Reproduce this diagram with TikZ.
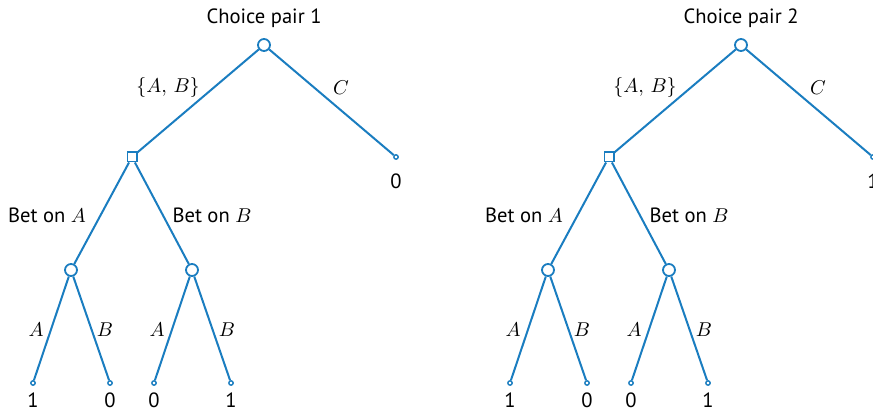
\documentclass[tikz,border=0pt]{standalone}
\usepackage{fontspec}
\setmainfont{PT Sans}
\usetikzlibrary{positioning}
\definecolor{treeblue}{HTML}{1A7DC0}

\begin{document}
\begin{tikzpicture}[x=0.5pt,y=-0.5pt,
    chance/.style={circle,draw=treeblue,fill=white,line width=0.9pt,inner sep=0pt,minimum size=6pt},
    choice/.style={rectangle,draw=treeblue,fill=white,line width=0.9pt,inner sep=0pt,minimum size=4.6pt},
    leaf/.style={circle,draw=treeblue,fill=white,line width=0.7pt,inner sep=0pt,minimum size=2.2pt},
    branch/.style={treeblue,line width=1pt},
    lbl/.style={font=\fontsize{10.3}{12}\selectfont,inner sep=0pt}]
  \useasboundingbox (0,0) rectangle (873,411);
  \clip (0,0) rectangle (873,411);
  \foreach \k/\dx/\cv in {1/0/0,2/477/1}{
    \begin{scope}[shift={(\dx,0)}]
      % decision nodes
      \node[chance] (root\k) at (264,45) {};
      \node[choice] (pick\k) at (132,157) {};
      \node[leaf] (outC\k) at (396,157) {};
      \node[chance] (betA\k) at (71,270) {};
      \node[chance] (betB\k) at (192,270) {};
      \node[leaf] (aa\k) at (33,383) {};
      \node[leaf] (ab\k) at (110,383) {};
      \node[leaf] (ba\k) at (154,383) {};
      \node[leaf] (bb\k) at (231,383) {};
      % branches
      \draw[branch] (root\k)--(pick\k); \draw[branch] (root\k)--(outC\k);
      \draw[branch] (pick\k)--(betA\k); \draw[branch] (pick\k)--(betB\k);
      \draw[branch] (betA\k)--(aa\k); \draw[branch] (betA\k)--(ab\k);
      \draw[branch] (betB\k)--(ba\k); \draw[branch] (betB\k)--(bb\k);
      % labels
      \node[lbl] (title\k) at (264,18) {Choice pair \k};
      \node[lbl] (lAB\k) at (168,88) {$\{A,\,B\}$};
      \node[lbl] (lC\k) at (341,88) {$C$};
      \node[lbl] (lbetA\k) at (47,215) {Bet on $A$};
      \node[lbl] (lbetB\k) at (212,215) {Bet on $B$};
      \node[lbl] (eAA\k) at (36,330) {$A$};
      \node[lbl] (eAB\k) at (105,330) {$B$};
      \node[lbl] (eBA\k) at (157,330) {$A$};
      \node[lbl] (eBB\k) at (227,330) {$B$};
      \node[lbl] (vC\k) at (396,181) {\cv};
      \node[lbl] (vaa\k) at (33,400) {1};
      \node[lbl] (vab\k) at (110,400) {0};
      \node[lbl] (vba\k) at (154,400) {0};
      \node[lbl] (vbb\k) at (231,400) {1};
    \end{scope}
  }
\end{tikzpicture}
\end{document}
